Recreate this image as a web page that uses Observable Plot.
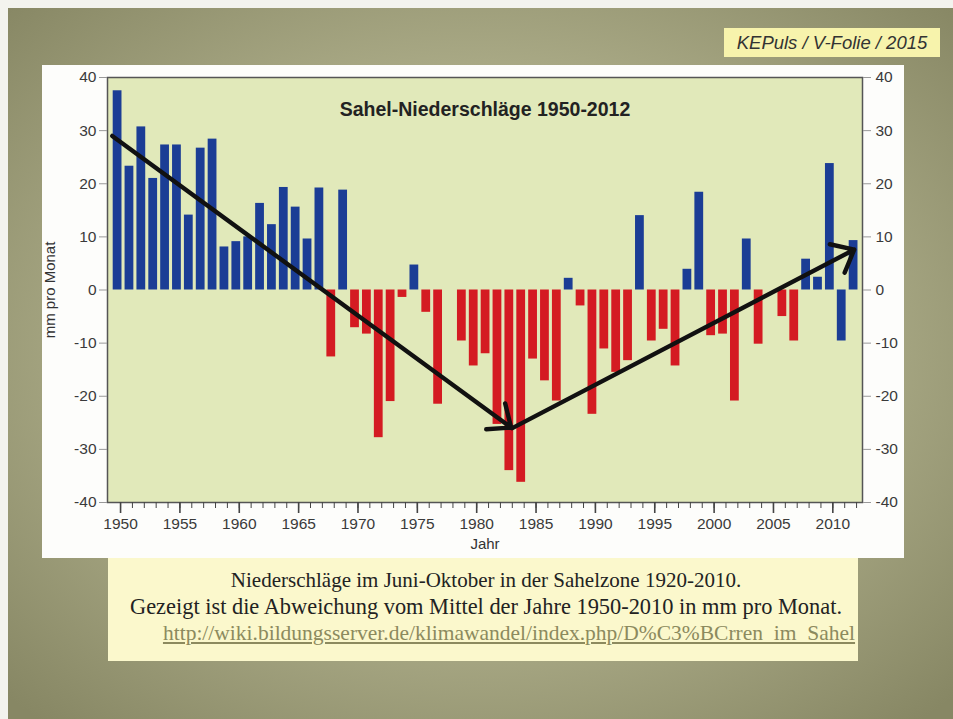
<!DOCTYPE html>
<html>
<head>
<meta charset="utf-8">
<script src="https://cdn.jsdelivr.net/npm/d3@7"></script>
<script src="https://cdn.jsdelivr.net/npm/@observablehq/plot@0.6"></script>
<style>
  body { margin: 0; }
  #page { position: relative; width: 953px; height: 719px; overflow: hidden; background: #f3f3ee; }
  #bg { position: absolute; left: 8px; top: 8px; right: 0; bottom: 0;
        background: radial-gradient(ellipse 70% 70% at 50% 48%, #c9c9a6 0%, #b2b28e 45%, #878764 100%); }
  #tag { position: absolute; left: 724px; top: 28px; width: 216px; height: 29px; background: #f7f3ac;
         font: italic 18.5px "Liberation Sans", Arial, sans-serif; color: #333; text-align: center; line-height: 29px; }
  #panel { position: absolute; left: 42px; top: 65px; width: 862px; height: 493px; background: #fdfdfb; }
  #chart { position: absolute; left: 42px; top: 65px; }
  #caption { position: absolute; left: 108px; top: 558px; width: 750px; height: 103px; background: #fbf8cc;
             font-family: "Liberation Serif", "Times New Roman", serif; color: #222; }
  #caption div { position: absolute; white-space: nowrap; line-height: 24px; }
</style>
</head>
<body>
<div id="page">
  <div id="bg"></div>
  <div id="tag">KEPuls / V-Folie / 2015</div>
  <div id="panel"></div>
  <div id="chart"></div>
  <div id="caption">
    <div id="c1" style="left:0;width:756px;text-align:center;top:10px;font-size:21px;">Niederschläge im Juni-Oktober in der Sahelzone 1920-2010.</div>
    <div id="c2" style="left:0;width:756px;text-align:center;top:37px;font-size:22.4px;">Gezeigt ist die Abweichung vom Mittel der Jahre 1950-2010 in mm pro Monat.</div>
    <div id="c3" style="left:52px;width:698px;text-align:center;top:63px;font-size:21.5px;color:#8c8a5e;text-decoration:underline;">http://wiki.bildungsserver.de/klimawandel/index.php/D%C3%BCrren_im_Sahel</div>
  </div>
</div>
<script>
// ---- data ----
const years = [1950,1951,1952,1953,1954,1955,1956,1957,1958,1959,
               1960,1961,1962,1963,1964,1965,1966,1967,1968,1969,
               1970,1971,1972,1973,1974,1975,1976,1977,1978,1979,
               1980,1981,1982,1983,1984,1985,1986,1987,1988,1989,
               1990,1991,1992,1993,1994,1995,1996,1997,1998,1999,
               2000,2001,2002,2003,2004,2005,2006,2007,2008,2009,
               2010,2011,2012];
const anomaly = [37.5, 23.3, 30.7, 21.0, 27.3, 27.3, 14.1, 26.7, 28.4, 8.1,
                 9.1, 10.0, 16.3, 12.3, 19.3, 15.6, 9.6, 19.2, -12.6, 18.8,
                 -7.1, -8.3, -27.8, -21.0, -1.4, 4.7, -4.2, -21.5, 0, -9.6,
                 -14.3, -12.0, -25.3, -34.0, -36.2, -13.0, -17.1, -20.9, 2.2, -3.0,
                 -23.4, -11.1, -15.5, -13.3, 14.0, -9.6, -7.4, -14.3, 3.9, 18.4,
                 -8.6, -8.3, -20.9, 9.6, -10.2, 0, -5.0, -9.6, 5.8, 2.4,
                 23.8, -9.6, 9.3];
const blueNegativeYears = [2011];
const xTickYears = [1950,1955,1960,1965,1970,1975,1980,1985,1990,1995,2000,2005,2010];
const yTicks = [-40,-30,-20,-10,0,10,20,30,40];
const trendStartYear = [1949.3, 1983.0];
const trendStartValue = [29.0, -26.0];
const trendEndYear = [1982.9, 2011.8];
const trendEndValue = [-25.9, 7.6];
const chartTitle = "Sahel-Niederschläge 1950-2012";
const yLabel = "mm pro Monat";
const xLabel = "Jahr";

// ---- build tables ----
const bars = years.map((year, i) => ({year, value: anomaly[i]}));
const isBlue = d => d.value > 0 || blueNegativeYears.includes(d.year);
const trend = trendStartYear.map((x1, i) => ({x1, y1: trendStartValue[i], x2: trendEndYear[i], y2: trendEndValue[i]}));

const BLUE = "#1b3d95", RED = "#d41b22";
const barLeft = d => d.year - 0.62, barRight = d => d.year + 0.12;
const font = '"Liberation Sans", Arial, sans-serif';

const chart = Plot.plot({
  width: 862, height: 492,
  marginLeft: 65, marginRight: 42, marginTop: 12, marginBottom: 55,
  style: {background: "transparent", fontFamily: font, fontSize: "15.5px", color: "#3a3a3a", overflow: "visible"},
  x: {domain: [1948.9, 2012.5], label: null},
  y: {domain: [-40, 40], label: null},
  marks: [
    Plot.frame({fill: "#e1e9ba"}),
    Plot.rect(bars.filter(isBlue), {x1: barLeft, x2: barRight, y1: 0, y2: "value", fill: BLUE}),
    Plot.rect(bars.filter(d => !isBlue(d)), {x1: barLeft, x2: barRight, y1: 0, y2: "value", fill: RED}),
    Plot.arrow(trend, {x1: "x1", y1: "y1", x2: "x2", y2: "y2", stroke: "#111", strokeWidth: 4.4, headAngle: 80, headLength: 8.5}),
    Plot.frame({stroke: "#555", strokeWidth: 1.5}),
    Plot.axisY({anchor: "left", ticks: yTicks, tickSize: 8, tickPadding: 3, tickFormat: d => String(d), stroke: "#999", fill: "#3a3a3a", label: null}),
    Plot.axisY({anchor: "right", ticks: yTicks, tickSize: 8, tickPadding: 5, tickFormat: d => String(d), stroke: "#999", fill: "#3a3a3a", label: null}),
    Plot.axisX({ticks: years, tickSize: 6, tickFormat: () => "", stroke: "#444", label: null}),
    Plot.axisX({ticks: xTickYears, tickSize: 11, tickPadding: 4, tickFormat: d => String(d), stroke: "#444", strokeWidth: 1.6, fill: "#3a3a3a", label: null}),
    Plot.text([yLabel], {frameAnchor: "left", textAnchor: "middle", rotate: -90, dx: -57, text: d => d, fontSize: 15, fill: "#333"}),
    Plot.text([xLabel], {frameAnchor: "bottom", dy: 46, text: d => d, fontSize: 15, fill: "#333"}),
    Plot.text([chartTitle], {frameAnchor: "top", dy: 25, text: d => d, fontSize: 19.5, fontWeight: "bold", fill: "#222"})
  ]
});
document.getElementById("chart").appendChild(chart);
</script>
</body>
</html>
